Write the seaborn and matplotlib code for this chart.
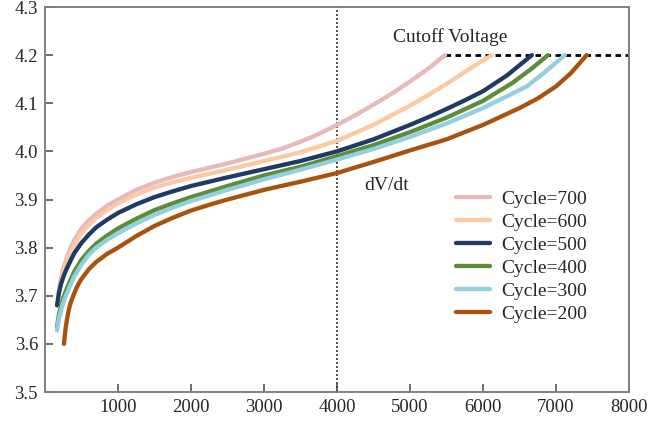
import matplotlib
matplotlib.use("Agg")
import matplotlib.pyplot as plt
import seaborn as sns
import pandas as pd

# ---- data ----
cycles = ["Cycle=700", "Cycle=600", "Cycle=500", "Cycle=400", "Cycle=300", "Cycle=200"]
colors = ["#E8B9B8", "#FBC9A2", "#1F3A64", "#5E8C38", "#92CFDF", "#A9520F"]

x700 = [180, 210, 250, 300, 350, 400, 500, 600, 700, 850, 1000, 1250, 1500, 1750, 2000, 2500,
        3000, 3250, 3500, 3750, 4000, 4250, 4500, 4750, 5000, 5250, 5480]
y700 = [3.70, 3.73, 3.755, 3.78, 3.80, 3.815, 3.84, 3.857, 3.87, 3.887, 3.90, 3.92, 3.935, 3.947,
        3.957, 3.975, 3.995, 4.006, 4.02, 4.036, 4.055, 4.075, 4.097, 4.12, 4.145, 4.172, 4.20]

x600 = [180, 210, 250, 300, 350, 400, 500, 600, 700, 850, 1000, 1250, 1500, 1750, 2000, 2500,
        3000, 3500, 4000, 4500, 5000, 5250, 5500, 5800, 6120]
y600 = [3.70, 3.725, 3.748, 3.772, 3.79, 3.805, 3.83, 3.847, 3.862, 3.878, 3.892, 3.91, 3.925,
        3.936, 3.945, 3.962, 3.98, 3.998, 4.022, 4.055, 4.095, 4.117, 4.14, 4.17, 4.20]

x500 = [165, 190, 220, 260, 300, 350, 400, 500, 600, 700, 850, 1000, 1250, 1500, 1750, 2000,
        2500, 3000, 3500, 4000, 4500, 5000, 5250, 5500, 5750, 6000, 6330, 6670]
y500 = [3.68, 3.705, 3.725, 3.743, 3.757, 3.773, 3.788, 3.81, 3.827, 3.842, 3.858, 3.872, 3.89,
        3.905, 3.917, 3.928, 3.946, 3.963, 3.98, 4.0, 4.025, 4.055, 4.071, 4.088, 4.106, 4.125,
        4.158, 4.20]

x400 = [165, 190, 220, 260, 300, 350, 400, 500, 600, 700, 850, 1000, 1250, 1500, 1750, 2000,
        2500, 3000, 3500, 4000, 4500, 5000, 5500, 6000, 6400, 6650, 6890]
y400 = [3.635, 3.66, 3.68, 3.70, 3.715, 3.733, 3.75, 3.775, 3.793, 3.808, 3.825, 3.84, 3.86,
        3.878, 3.892, 3.905, 3.928, 3.95, 3.968, 3.99, 4.013, 4.04, 4.07, 4.105, 4.142, 4.17, 4.20]

x300 = [165, 190, 220, 260, 300, 350, 400, 500, 600, 700, 850, 1000, 1250, 1500, 1750, 2000,
        2500, 3000, 3500, 4000, 4500, 5000, 5500, 6000, 6600, 6850, 7120]
y300 = [3.628, 3.652, 3.67, 3.69, 3.705, 3.723, 3.74, 3.765, 3.785, 3.80, 3.816, 3.83, 3.85,
        3.868, 3.883, 3.897, 3.92, 3.942, 3.962, 3.983, 4.005, 4.03, 4.058, 4.09, 4.135, 4.165, 4.20]

x200 = [260, 280, 300, 325, 350, 400, 450, 500, 600, 700, 850, 1000, 1250, 1500, 1750, 2000,
        2250, 2500, 3000, 3500, 4000, 4500, 5000, 5500, 6000, 6500, 6750, 7000, 7200, 7420]
y200 = [3.60, 3.63, 3.65, 3.67, 3.685, 3.705, 3.722, 3.735, 3.755, 3.77, 3.787, 3.80, 3.824,
        3.845, 3.862, 3.877, 3.889, 3.90, 3.92, 3.937, 3.955, 3.978, 4.002, 4.025, 4.055, 4.09,
        4.11, 4.135, 4.162, 4.20]

xticks = [1000, 2000, 3000, 4000, 5000, 6000, 7000, 8000]
yticks = [3.5, 3.6, 3.7, 3.8, 3.9, 4.0, 4.1, 4.2, 4.3]
cutoff_voltage = 4.2
marker_x = 4000

# ---- build long-form table ----
xs = [x700, x600, x500, x400, x300, x200]
ys = [y700, y600, y500, y400, y300, y200]
frames = []
for name, xv, yv in zip(cycles, xs, ys):
    frames.append(pd.DataFrame({"x": xv, "y": yv, "cycle": name}))
df = pd.concat(frames, ignore_index=True)

sns.set_style("ticks")
plt.rcParams["font.family"] = ["Liberation Serif", "DejaVu Serif"]

fig = plt.figure(figsize=(6.51, 4.23), dpi=100)
ax = fig.add_axes([45 / 651, 1 - 392 / 423, (629 - 45) / 651, (392 - 7) / 423])

sns.lineplot(data=df, x="x", y="y", hue="cycle", hue_order=cycles,
             palette=colors, sort=False, estimator=None, linewidth=3.1,
             solid_joinstyle="round", solid_capstyle="round", ax=ax)

ax.axvline(marker_x, color="#333333", linestyle=(0, (1.2, 1.2)), linewidth=1.2, zorder=1)
ax.plot([x700[-1], 8000], [cutoff_voltage, cutoff_voltage], color="black",
        linestyle=(0, (2, 1.6)), linewidth=2.0, zorder=1)

ax.text(4770, 4.238, "Cutoff Voltage", fontsize=14, va="center", ha="left")
ax.text(4380, 3.93, "dV/dt", fontsize=14, va="center", ha="left")

ax.set_xlim(0, 8000)
ax.set_ylim(3.5, 4.3)
ax.set_xticks(xticks)
ax.set_xticklabels([str(v) for v in xticks])
ax.set_yticks(yticks)
ax.set_yticklabels([f"{v:.1f}" for v in yticks])
ax.set_xlabel("")
ax.set_ylabel("")
ax.tick_params(direction="in", length=6, width=1.2, color="#555555",
               labelsize=13.5, pad=5)
for s in ax.spines.values():
    s.set_visible(True)
    s.set_color("#808080")
    s.set_linewidth(1.4)

leg = ax.legend(loc="center left", bbox_to_anchor=(0.673, 0.394),
                bbox_transform=fig.transFigure, frameon=False, fontsize=14,
                handlelength=1.75, handletextpad=0.6, labelspacing=0.28,
                borderpad=0.4)
for h in leg.get_lines():
    h.set_linewidth(3.1)

fig.savefig("out.png", dpi=100)
